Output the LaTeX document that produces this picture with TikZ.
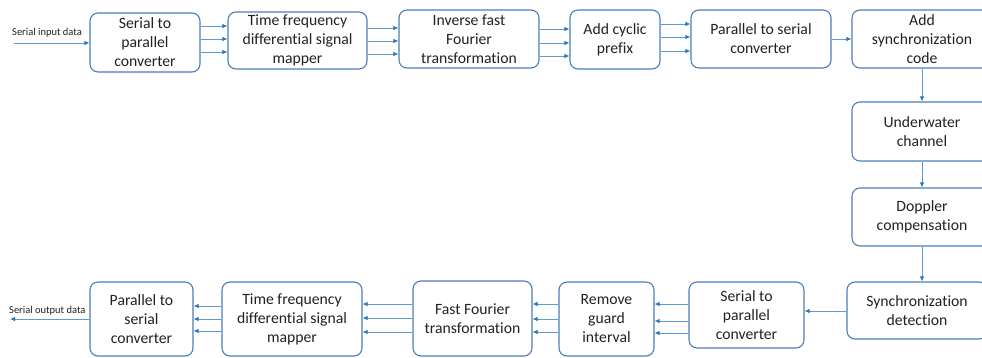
\documentclass[tikz,border=0pt]{standalone}
\usepackage{fontspec}
\setmainfont{Carlito}[Ligatures=CommonOff]
\usetikzlibrary{arrows.meta,calc}
\definecolor{boxline}{HTML}{4A7EBB}
\definecolor{wire}{HTML}{5B9BD5}
\definecolor{tip}{HTML}{2E75B6}
\definecolor{ink}{HTML}{222222}
\tikzset{
  block/.style={draw=boxline,line width=1.1pt,rounded corners=8pt,fill=white,
    inner sep=0pt,align=center,text=ink,
    font=\fontsize{15.7}{19}\selectfont},
  wirearrow/.style={draw=wire,line width=0.8pt,
    -{Latex[length=5pt,width=4.5pt,color=tip]}},
  iolabel/.style={text=ink,font=\fontsize{10.5}{12}\selectfont,inner sep=0pt}
}
\begin{document}
\begin{tikzpicture}[x=1pt,y=-1pt]
\useasboundingbox (0,0) rectangle (982,358);
\fill[white] (0,0) rectangle (982,358);

% transmitter chain
\node[block,minimum width=110,minimum height=59] (sp1) at (145,42.5) {Serial to\\parallel\\converter};
\node[block,minimum width=139,minimum height=57] (tf1) at (297.5,40.5) {Time frequency\\differential signal\\mapper};
\node[block,minimum width=140,minimum height=58] (ifft) at (469,39) {Inverse fast\\Fourier\\transformation};
\node[block,minimum width=90,minimum height=59] (cp) at (615,39.5) {Add cyclic\\prefix};
\node[block,minimum width=140,minimum height=58] (ps1) at (761,39) {Parallel to serial\\converter};
\node[block,minimum width=140,minimum height=58] (sync) at (922,39) {Add\\synchronization\\code};

% channel and receiver front end
\node[block,minimum width=140,minimum height=59] (uw) at (922,131.5) {Underwater\\channel};
\node[block,minimum width=140,minimum height=58] (dop) at (922,217) {Doppler\\compensation};
\node[block,minimum width=140,minimum height=57] (det) at (917,310.5) {Synchronization\\detection};

% receiver chain
\node[block,minimum width=115,minimum height=66] (sp2) at (746.5,315) {Serial to\\parallel\\converter};
\node[block,minimum width=95,minimum height=74] (rg) at (606.5,319) {Remove\\guard\\interval};
\node[block,minimum width=119,minimum height=75] (fft) at (472.5,318.5) {Fast Fourier\\transformation};
\node[block,minimum width=140,minimum height=74] (tf2) at (292,319) {Time frequency\\differential signal\\mapper};
\node[block,minimum width=103,minimum height=74] (ps2) at (141.5,319) {Parallel to\\serial\\converter};

% input / output ends
\coordinate (in) at (14,43);
\coordinate (out) at (10,319);
\node[iolabel,anchor=west] (inlab) at (12,33) {Serial input data};
\node[iolabel,anchor=west] (outlab) at (9,311) {Serial output data};

\draw[wirearrow] (in) -- (sp1.west |- in);
\foreach \y in {26,39,52}
  \draw[wirearrow] (sp1.east |- 0,\y) -- (tf1.west |- 0,\y);
\foreach \y in {28,41,54}
  \draw[wirearrow] (tf1.east |- 0,\y) -- (ifft.west |- 0,\y);
\foreach \y in {29,43,56}
  \draw[wirearrow] (ifft.east |- 0,\y) -- (cp.west |- 0,\y);
\foreach \y in {24,37,51}
  \draw[wirearrow] (cp.east |- 0,\y) -- (ps1.west |- 0,\y);
\draw[wirearrow] (ps1.east |- 0,39) -- (sync.west |- 0,39);

\draw[wirearrow] (sync.south) -- (uw.north);
\draw[wirearrow] (uw.south) -- (dop.north);
\draw[wirearrow] (dop.south) -- (dop.south |- det.north);

\draw[wirearrow] (det.west |- 0,311) -- (sp2.east |- 0,311);
\foreach \y in {304,321,333}
  \draw[wirearrow] (sp2.west |- 0,\y) -- (rg.east |- 0,\y);
\foreach \y in {304,319,332}
  \draw[wirearrow] (rg.west |- 0,\y) -- (fft.east |- 0,\y);
\foreach \y in {304,318,332}
  \draw[wirearrow] (fft.west |- 0,\y) -- (tf2.east |- 0,\y);
\foreach \y in {306,319,331}
  \draw[wirearrow] (tf2.west |- 0,\y) -- (ps2.east |- 0,\y);
\draw[wirearrow] (ps2.west |- out) -- (out);
\end{tikzpicture}
\end{document}
